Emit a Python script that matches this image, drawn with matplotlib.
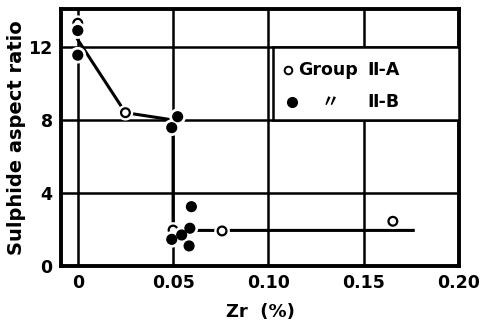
import matplotlib
matplotlib.use("Agg")
import matplotlib.pyplot as plt
import matplotlib.patheffects as pe
from matplotlib.patches import Rectangle

plt.rcParams['font.family'] = ['DejaVu Sans', 'Noto Sans CJK JP']

# Group II-A (open circles)
a_zr = [0.0, 0.025, 0.050, 0.0757, 0.1653]
a_ratio = [13.3, 8.4, 1.97, 1.92, 2.45]
# Group II-B (filled circles)
b_zr = [0.0, 0.0, 0.0524, 0.0493, 0.0596, 0.0588, 0.0545, 0.0493, 0.0584]
b_ratio = [12.9, 11.55, 8.18, 7.58, 3.25, 2.07, 1.70, 1.46, 1.10]
# trend line
fit_zr = [0.0, 0.025, 0.050, 0.050, 0.176]
fit_ratio = [12.4, 8.4, 8.0, 1.95, 1.95]

xticks = [0, 0.05, 0.10, 0.15, 0.20]
xticklabels = ["0", "0.05", "0.10", "0.15", "0.20"]
yticks = [0, 4, 8, 12]

fig = plt.figure(figsize=(4.81, 3.27), dpi=100)
ax = fig.add_axes([61/481, (327-266)/327, 398/481, 257/327])
ax.set_xlim(-0.0088, 0.197)
ax.set_ylim(0, 14.08)

for x in [0, 0.05, 0.10, 0.15]:
    ax.axvline(x, color='black', lw=1.8, zorder=1)
for y in [4, 8, 12]:
    ax.axhline(y, color='black', lw=1.8, zorder=1)

halo = [pe.Stroke(linewidth=5, foreground='white'), pe.Normal()]
ax.plot(fit_zr, fit_ratio, color='black', lw=2.2, zorder=2)
ax.plot(a_zr, a_ratio, 'o', ms=6.3, mfc='white', mec='black', mew=1.6,
        zorder=4, path_effects=halo)
ax.plot(b_zr, b_ratio, 'o', ms=7, mfc='black', mec='black', mew=1,
        zorder=4, path_effects=halo)

for s in ax.spines.values():
    s.set_linewidth(2.8)
ax.set_xticks(xticks)
ax.set_xticklabels(xticklabels)
ax.set_yticks(yticks)
ax.tick_params(length=0, pad=6, labelsize=12.5)
for t in ax.get_xticklabels() + ax.get_yticklabels():
    t.set_fontweight('bold')
ax.set_xlabel("Zr  (%)", fontsize=13, fontweight='bold', labelpad=8)
ax.set_ylabel("Sulphide aspect ratio", fontsize=14, fontweight='bold', labelpad=2)

# legend box
ax.add_patch(Rectangle((0.533, 0.568), 0.467, 0.284, transform=ax.transAxes,
                       facecolor='white', edgecolor='black', lw=1.8, zorder=5))
ax.plot([0.570], [0.763], 'o', ms=5.5, mfc='white', mec='black', mew=1.4,
        transform=ax.transAxes, zorder=6, clip_on=False)
ax.plot([0.580], [0.638], 'o', ms=7, mfc='black', mec='black',
        transform=ax.transAxes, zorder=6, clip_on=False)
ax.text(0.597, 0.763, "Group", transform=ax.transAxes, fontsize=12.5,
        fontweight='bold', va='center', ha='left', zorder=6)
ax.text(0.770, 0.763, "Ⅱ-A", transform=ax.transAxes, fontsize=12.5,
        fontweight='bold', va='center', ha='left', zorder=6)
ax.text(0.676, 0.638, "〃", transform=ax.transAxes, fontsize=12.5,
        fontweight='bold', va='center', ha='center', zorder=6)
ax.text(0.770, 0.638, "Ⅱ-B", transform=ax.transAxes, fontsize=12.5,
        fontweight='bold', va='center', ha='left', zorder=6)

fig.savefig("out.png", dpi=100)
